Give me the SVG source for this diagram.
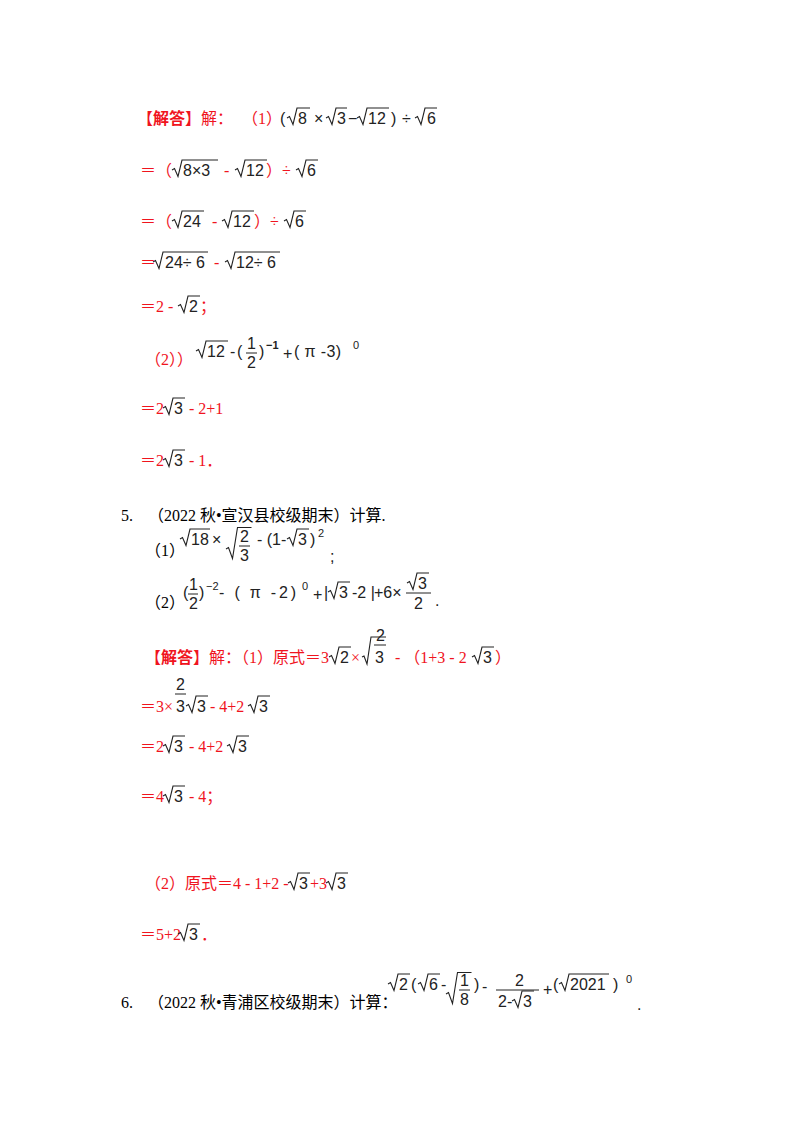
<svg xmlns="http://www.w3.org/2000/svg" width="800" height="1132" viewBox="0 0 800 1132">
<style>
text{font-family:"Liberation Serif","Noto Sans CJK SC",serif;font-size:16px;fill:#000}
.red{fill:#f0141e}
.m{font-family:"Liberation Sans","Noto Sans CJK SC",sans-serif;font-size:16px;fill:#222}
.s{font-size:11px}
.b{font-weight:bold}
path.r{fill:none;stroke:#222;stroke-width:1.1}
line{stroke:#222;stroke-width:1}
</style>
<rect width="800" height="1132" fill="#fff"/>
<g id="a1">
<text x="137" y="124" class="red">【<tspan class="b">解答</tspan>】解：</text>
<text x="242" y="124" class="red">（1）</text>
<text x="280" y="124" class="m">(</text>
<path class="r" d="M287 118 l2.5 -1.5 l3.5 8 l4 -16.5 h13"/><text x="298" y="124" class="m">8</text>
<text x="314" y="124" class="m">×</text>
<path class="r" d="M326 118 l2.5 -1.5 l3.5 8 l4 -16.5 h11"/><text x="337" y="124" class="m">3</text>
<text x="348" y="124" class="m">−</text>
<path class="r" d="M357 118 l2.5 -1.5 l3.5 8 l4 -16.5 h22"/><text x="368" y="124" class="m">12</text>
<text x="391" y="124" class="m">)</text>
<text x="402" y="124" class="m">÷</text>
<path class="r" d="M415 118 l2.5 -1.5 l3.5 8 l4 -16.5 h12"/><text x="427" y="124" class="m">6</text>
</g>
<g id="a2">
<text x="140" y="176" class="red">＝（</text>
<path class="r" d="M172 170 l2.5 -1.5 l3.5 8 l4 -16.5 h36"/><text x="183" y="176" class="m">8×3</text>
<text x="224" y="176" class="red">-</text>
<path class="r" d="M235 170 l2.5 -1.5 l3.5 8 l4 -16.5 h22"/><text x="246" y="176" class="m">12</text>
<text x="266" y="176" class="red">）÷</text>
<path class="r" d="M296 170 l2.5 -1.5 l3.5 8 l4 -16.5 h12"/><text x="307" y="176" class="m">6</text>
</g>
<g id="a3">
<text x="140" y="227" class="red">＝（</text>
<path class="r" d="M172 221 l2.5 -1.5 l3.5 8 l4 -16.5 h22"/><text x="183" y="227" class="m">24</text>
<text x="212" y="227" class="red">-</text>
<path class="r" d="M222 221 l2.5 -1.5 l3.5 8 l4 -16.5 h22"/><text x="233" y="227" class="m">12</text>
<text x="254" y="227" class="red">）÷</text>
<path class="r" d="M284 221 l2.5 -1.5 l3.5 8 l4 -16.5 h12"/><text x="295" y="227" class="m">6</text>
</g>
<g id="a4">
<text x="140" y="268" class="red">＝</text>
<path class="r" d="M153 262 l2.5 -1.5 l3.5 8 l4 -16.5 h45"/><text x="165" y="268" class="m">24÷ 6</text>
<text x="214" y="268" class="red">-</text>
<path class="r" d="M225 262 l2.5 -1.5 l3.5 8 l4 -16.5 h45"/><text x="236" y="268" class="m">12÷ 6</text>
</g>
<g id="a5">
<text x="140" y="312" class="red">＝2 -</text>
<path class="r" d="M178 306 l2.5 -1.5 l3.5 8 l4 -16.5 h12"/><text x="189" y="312" class="m">2</text>
<text x="200" y="312" class="red">；</text>
</g>
<g id="a6">
<text x="145" y="365" class="red">（2））</text>
<path class="r" d="M196 351 l2.5 -1.5 l3.5 8 l4 -16.5 h22"/><text x="207" y="357" class="m">12</text>
<text x="230" y="357" class="m">-</text>
<text x="237" y="357" class="m">(</text>
<text x="247" y="349" class="m">1</text><line x1="246" y1="353" x2="257" y2="353"/><text x="247" y="368" class="m">2</text>
<text x="259" y="357" class="m">)</text>
<text x="266" y="349" class="m s b">−1</text>
<text x="283" y="359" class="m">+</text>
<text x="294" y="357" class="m" textLength="47">( π -3)</text>
<text x="353" y="349" class="m s">0</text>
</g>
<g id="a7">
<text x="140" y="414" class="red">＝2</text>
<path class="r" d="M163 408 l2.5 -1.5 l3.5 8 l4 -16.5 h12"/><text x="174" y="414" class="m">3</text>
<text x="189" y="414" class="red">- 2+1</text>
</g>
<g id="a8">
<text x="140" y="466" class="red">＝2</text>
<path class="r" d="M163 460 l2.5 -1.5 l3.5 8 l4 -16.5 h12"/><text x="174" y="466" class="m">3</text>
<text x="189" y="466" class="red">- 1．</text>
</g>
<g id="q5">
<text x="121" y="521">5.</text>
<text x="148" y="521">（2022 秋•宣汉县校级期末）计算.</text>
<text x="145" y="556">（1）</text>
<path class="r" d="M180 539 l2.5 -1.5 l3.5 8 l4 -16.5 h20"/><text x="191" y="545" class="m">18</text>
<text x="212" y="545" class="m">×</text>
<path class="r" d="M226 549 l2.5 -1.5 l4 11 l5 -31 h14"/>
<text x="240" y="542" class="m">2</text><line x1="239" y1="546" x2="250" y2="546"/><text x="240" y="561" class="m">3</text>
<text x="257" y="545" class="m">- (1-</text>
<path class="r" d="M287 539 l2.5 -1.5 l3.5 8 l4 -16.5 h12"/><text x="298" y="545" class="m">3</text>
<text x="310" y="545" class="m">)</text>
<text x="318" y="537" class="m s">2</text>
<text x="330" y="562" class="m">;</text>
<text x="145" y="608">（2）</text>
<text x="183" y="598" class="m">(</text>
<text x="189" y="590" class="m">1</text><line x1="188" y1="594" x2="198" y2="594"/><text x="189" y="609" class="m">2</text>
<text x="199" y="598" class="m">)</text>
<text x="206" y="590" class="m s">−2</text>
<text x="219" y="598" class="m" textLength="77">- ( π -2)</text>
<text x="302" y="590" class="m s">0</text>
<text x="313" y="600" class="m">+</text>
<text x="324" y="598" class="m">|</text>
<path class="r" d="M328 592 l2.5 -1.5 l3.5 8 l4 -16.5 h12"/><text x="339" y="598" class="m">3</text>
<text x="352" y="598" class="m">-2 |</text>
<text x="374" y="598" class="m">+6×</text>
<path class="r" d="M407 583 l2.5 -1.5 l3.5 8 l4 -16.5 h12"/><text x="418" y="589" class="m">3</text>
<line x1="406" y1="593" x2="431" y2="593"/><text x="414" y="609" class="m">2</text>
<text x="435" y="606" class="m">.</text>
</g>
<g id="a9">
<text x="145" y="663" class="red">【<tspan class="b">解答</tspan>】解：（1）原式＝3</text>
<path class="r" d="M329 657 l2.5 -1.5 l3.5 8 l4 -16.5 h12"/><text x="340" y="663" class="m">2</text>
<text x="351" y="663" class="red">×</text>
<path class="r" d="M362 657 l2 -1 l3 8 l4 -27 h15"/>
<text x="376" y="641" class="m">2</text><line x1="374" y1="645" x2="386" y2="645"/>
<text x="375" y="663" class="m">3</text>
<text x="395" y="663" class="red">- （1+3 - 2</text>
<path class="r" d="M472 657 l2.5 -1.5 l3.5 8 l4 -16.5 h12"/><text x="483" y="663" class="m">3</text>
<text x="495" y="663" class="red">）</text>
</g>
<g id="a10">
<text x="140" y="712" class="red">＝3×</text>
<text x="176" y="690" class="m">2</text><line x1="175" y1="694" x2="186" y2="694"/>
<text x="176" y="712" class="m">3</text>
<path class="r" d="M186 706 l2.5 -1.5 l3.5 8 l4 -16.5 h12"/><text x="197" y="712" class="m">3</text>
<text x="210" y="712" class="red">- 4+2</text>
<path class="r" d="M248 706 l2.5 -1.5 l3.5 8 l4 -16.5 h12"/><text x="259" y="712" class="m">3</text>
</g>
<g id="a11">
<text x="140" y="752" class="red">＝2</text>
<path class="r" d="M163 746 l2.5 -1.5 l3.5 8 l4 -16.5 h12"/><text x="174" y="752" class="m">3</text>
<text x="189" y="752" class="red">- 4+2</text>
<path class="r" d="M227 746 l2.5 -1.5 l3.5 8 l4 -16.5 h12"/><text x="238" y="752" class="m">3</text>
</g>
<g id="a12">
<text x="140" y="802" class="red">＝4</text>
<path class="r" d="M163 796 l2.5 -1.5 l3.5 8 l4 -16.5 h12"/><text x="174" y="802" class="m">3</text>
<text x="189" y="802" class="red">- 4；</text>
</g>
<g id="a13">
<text x="145" y="889" class="red">（2）原式＝4 - 1+2 -</text>
<path class="r" d="M288 883 l2.5 -1.5 l3.5 8 l4 -16.5 h12"/><text x="299" y="889" class="m">3</text>
<text x="310" y="889" class="red">+3</text>
<path class="r" d="M326 883 l2.5 -1.5 l3.5 8 l4 -16.5 h12"/><text x="337" y="889" class="m">3</text>
</g>
<g id="a14">
<text x="140" y="940" class="red">＝5+2</text>
<path class="r" d="M178 934 l2.5 -1.5 l3.5 8 l4 -16.5 h12"/><text x="189" y="940" class="m">3</text>
<text x="201" y="940" class="red">．</text>
</g>
<g id="q6">
<text x="121" y="1008">6.</text>
<text x="148" y="1008">（2022 秋•青浦区校级期末）计算：</text>
<path class="r" d="M388 984 l2.5 -1.5 l3.5 8 l4 -16.5 h12"/><text x="399" y="990" class="m">2</text>
<text x="411" y="990" class="m">(</text>
<path class="r" d="M418 984 l2.5 -1.5 l3.5 8 l4 -16.5 h12"/><text x="429" y="990" class="m">6</text>
<text x="441" y="990" class="m">-</text>
<path class="r" d="M446 994 l2.5 -1.5 l4 11 l5 -31 h14"/>
<text x="460" y="986" class="m">1</text><line x1="459" y1="990" x2="470" y2="990"/><text x="460" y="1005" class="m">8</text>
<text x="474" y="990" class="m">)</text>
<text x="482" y="992" class="m">-</text>
<text x="515" y="986" class="m">2</text><line x1="496" y1="990" x2="539" y2="990"/>
<text x="498" y="1007" class="m">2-</text>
<path class="r" d="M512 1001 l2.5 -1.5 l3.5 8 l4 -16.5 h12"/><text x="523" y="1007" class="m">3</text>
<text x="543" y="995" class="m">+</text>
<text x="553" y="990" class="m">(</text>
<path class="r" d="M559 984 l2.5 -1.5 l3.5 8 l4 -16.5 h40"/><text x="570" y="990" class="m">2021</text>
<text x="613" y="990" class="m">)</text>
<text x="626" y="983" class="m s">0</text>
<text x="637" y="1010" class="m">.</text>
</g>
</svg>
